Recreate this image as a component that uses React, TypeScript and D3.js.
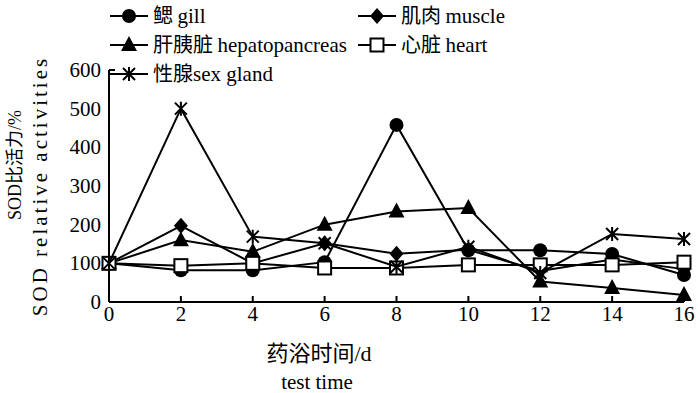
import * as d3 from 'd3';

// test time (d)
const days = [0, 2, 4, 6, 8, 10, 12, 14, 16];
const yTicks = [0, 100, 200, 300, 400, 500, 600];

const gill = [100, 82, 82, 103, 458, 134, 134, 124, 70];
const muscle = [100, 197, 100, 152, 125, 135, 80, 110, 85];
const hepatopancreas = [100, 160, 130, 200, 234, 243, 53, 36, 18];
const heart = [100, 94, 100, 88, 88, 96, 96, 96, 103];
const sexGland = [100, 500, 169, 152, 91, 143, 75, 176, 163];

const SERIF = '"Liberation Serif", "DejaVu Serif", serif';
const CJK = '"Noto Sans CJK SC", sans-serif';

type MarkerKind = 'circle' | 'diamond' | 'triangle' | 'square' | 'star';

interface Series {
  zh: string;
  en: string;
  values: number[];
  marker: MarkerKind;
}

const series: Series[] = [
  { zh: '鳃 ', en: 'gill', values: gill, marker: 'circle' },
  { zh: '肌肉 ', en: 'muscle', values: muscle, marker: 'diamond' },
  { zh: '肝胰脏 ', en: 'hepatopancreas', values: hepatopancreas, marker: 'triangle' },
  { zh: '心脏 ', en: 'heart', values: heart, marker: 'square' },
  { zh: '性腺', en: 'sex gland', values: sexGland, marker: 'star' },
];

const Marker = ({ kind, x, y }: { kind: MarkerKind; x: number; y: number }) => {
  switch (kind) {
    case 'circle':
      return <circle cx={x} cy={y} r={7} fill="#000" />;
    case 'diamond':
      return <path d={`M${x},${y - 8}L${x + 7},${y}L${x},${y + 8}L${x - 7},${y}Z`} fill="#000" />;
    case 'triangle':
      return <path d={`M${x},${y - 9}L${x + 8},${y + 6}L${x - 8},${y + 6}Z`} fill="#000" />;
    case 'square':
      return <rect x={x - 6.5} y={y - 6.5} width={13} height={13} fill="#fff" stroke="#000" strokeWidth={2} />;
    default:
      return (
        <path
          d={`M${x - 6},${y - 6}L${x + 6},${y + 6}M${x + 6},${y - 6}L${x - 6},${y + 6}M${x},${y - 7}L${x},${y + 7}`}
          stroke="#000"
          strokeWidth={2}
          fill="none"
        />
      );
  }
};

const App = () => {
  const width = 700;
  const height = 393;
  const x = d3.scaleLinear().domain([0, 16]).range([109, 684]);
  const y = d3.scaleLinear().domain([0, 600]).range([302, 70]);

  const line = d3
    .line<number>()
    .x((_, i) => x(days[i]))
    .y((d) => y(d));

  // legend placement: two columns, three rows
  const legendPos = [
    { lx: 110, ly: 16 },
    { lx: 358, ly: 16 },
    { lx: 110, ly: 45 },
    { lx: 358, ly: 45 },
    { lx: 110, ly: 74 },
  ];

  return (
    <svg
      width={width}
      height={height}
      style={{ position: 'absolute', left: 0, top: 0, background: '#fff' }}
      fontFamily={SERIF}
    >
      {/* axes */}
      <line x1={x(0)} x2={x(16)} y1={y(0)} y2={y(0)} stroke="#000" strokeWidth={2} />
      <line x1={x(0)} x2={x(0)} y1={y(0)} y2={y(600)} stroke="#000" strokeWidth={2} />
      <line x1={x(0)} x2={x(0) + 6} y1={y(600)} y2={y(600)} stroke="#000" strokeWidth={2} />
      {days.slice(1).map((d) => (
        <line key={d} x1={x(d)} x2={x(d)} y1={y(0)} y2={y(0) - 6} stroke="#000" strokeWidth={2} />
      ))}
      {days.map((d) => (
        <text key={d} x={x(d)} y={321} textAnchor="middle" fontSize={21} fontFamily={SERIF}>
          {d}
        </text>
      ))}
      {yTicks.map((t) => (
        <text key={t} x={101} y={y(t) + 7} textAnchor="end" fontSize={21} fontFamily={SERIF}>
          {t}
        </text>
      ))}

      {/* axis titles */}
      <text x={319} y={361} textAnchor="middle" fontSize={22}>
        <tspan fontFamily={CJK}>药浴时间</tspan>
        <tspan fontFamily={SERIF}>/d</tspan>
      </text>
      <text x={317} y={389} textAnchor="middle" fontSize={21} fontFamily={SERIF}>
        test time
      </text>
      <text transform="translate(21,165) rotate(-90)" textAnchor="middle" fontSize={18}>
        <tspan fontFamily={SERIF}>SOD</tspan>
        <tspan fontFamily={CJK}>比活力</tspan>
        <tspan fontFamily={SERIF}>/%</tspan>
      </text>
      <text
        transform="translate(47,186) rotate(-90)"
        textAnchor="middle"
        fontSize={21}
        letterSpacing={3}
        fontFamily={SERIF}
      >
        SOD relative activities
      </text>

      {/* series */}
      {series.map((s) => (
        <g key={s.en}>
          <path d={line(s.values) ?? ''} fill="none" stroke="#000" strokeWidth={2} />
          {s.values.map((v, i) => (
            <Marker key={i} kind={s.marker} x={x(days[i])} y={y(v)} />
          ))}
        </g>
      ))}

      {/* legend */}
      {series.map((s, i) => {
        const { lx, ly } = legendPos[i];
        return (
          <g key={s.en}>
            <line x1={lx} x2={lx + 38} y1={ly} y2={ly} stroke="#000" strokeWidth={2} />
            <Marker kind={s.marker} x={lx + 19} y={ly} />
            <text x={lx + 43} y={ly + 7} fontSize={20}>
              <tspan fontFamily={CJK}>{s.zh}</tspan>
              <tspan fontFamily={SERIF} fontSize={21}>{s.en}</tspan>
            </text>
          </g>
        );
      })}
    </svg>
  );
};

export default App;
